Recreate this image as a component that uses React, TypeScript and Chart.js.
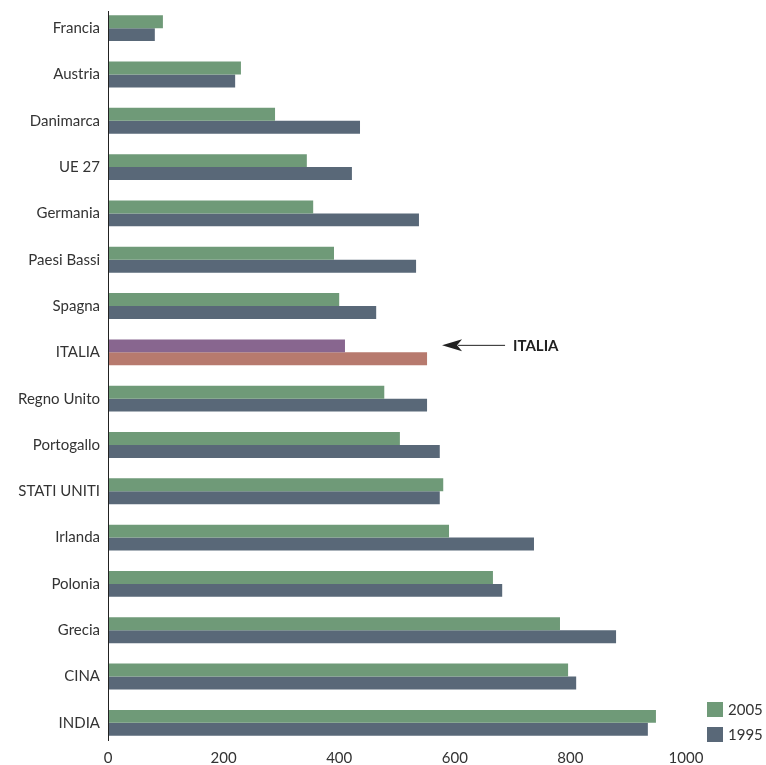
import React, { useEffect, useRef } from "react";
import { Chart, registerables } from "chart.js";

Chart.register(...registerables);

const categories = [
  "Francia", "Austria", "Danimarca", "UE 27", "Germania", "Paesi Bassi", "Spagna", "ITALIA",
  "Regno Unito", "Portogallo", "STATI UNITI", "Irlanda", "Polonia", "Grecia", "CINA", "INDIA",
];
const values2005 = [95, 230, 289, 344, 355, 391, 400, 410, 478, 505, 580, 590, 666, 782, 796, 948];
const values1995 = [81, 220, 436, 422, 538, 533, 464, 552, 552, 574, 574, 737, 682, 879, 810, 934];
const xTicks = [0, 200, 400, 600, 800, 1000];
const highlight = "ITALIA";

const GREEN = "#6f9a78";
const BLUE = "#596878";
const PURPLE = "#88668f";
const SALMON = "#b77a6e";
const FONT = "Lato, 'Open Sans', sans-serif";

export default function App() {
  const ref = useRef<HTMLCanvasElement>(null);
  useEffect(() => {
    if (!ref.current) return;
    const annot = {
      id: "annot",
      afterDraw(chart: any) {
        const ctx = chart.ctx;
        const x = chart.scales.x;
        const y = chart.scales.y;
        const area = chart.chartArea;
        ctx.save();
        // y axis line
        ctx.strokeStyle = "#222";
        ctx.lineWidth = 1;
        ctx.beginPath();
        ctx.moveTo(area.left + 0.5, area.top + 6);
        ctx.lineTo(area.left + 0.5, area.bottom - 5);
        ctx.stroke();
        const idx = categories.indexOf(highlight);
        const yc = y.getPixelForValue(idx) - 7;
        const tip = x.getPixelForValue(Math.max(values2005[idx], values1995[idx])) + 15;
        ctx.fillStyle = "#222";
        ctx.beginPath();
        ctx.moveTo(tip + 16, yc);
        ctx.lineTo(tip + 63, yc);
        ctx.stroke();
        ctx.beginPath();
        ctx.moveTo(tip, yc);
        ctx.lineTo(tip + 20, yc - 6);
        ctx.lineTo(tip + 15, yc);
        ctx.lineTo(tip + 20, yc + 6);
        ctx.closePath();
        ctx.fill();
        ctx.font = "bold 15px " + FONT;
        ctx.textBaseline = "middle";
        ctx.textAlign = "left";
        ctx.fillText(highlight, tip + 71, yc + 1);
        // legend
        const items = [
          { label: "2005", color: GREEN },
          { label: "1995", color: BLUE },
        ];
        ctx.font = "15px " + FONT;
        items.forEach((it, i) => {
          const ly = 702 + i * 25;
          ctx.fillStyle = it.color;
          ctx.fillRect(707, ly, 16, 15);
          ctx.fillStyle = "#333";
          ctx.fillText(it.label, 728, ly + 8);
        });
        ctx.restore();
      },
    };
    const chart = new Chart(ref.current, {
      type: "bar",
      data: {
        labels: categories,
        datasets: [
          {
            label: "2005",
            data: values2005,
            backgroundColor: categories.map((c) => (c === highlight ? PURPLE : GREEN)),
            categoryPercentage: 0.56,
            barPercentage: 1,
          },
          {
            label: "1995",
            data: values1995,
            backgroundColor: categories.map((c) => (c === highlight ? SALMON : BLUE)),
            categoryPercentage: 0.56,
            barPercentage: 1,
          },
        ],
      },
      options: {
        indexAxis: "y",
        animation: false,
        responsive: false,
        maintainAspectRatio: false,
        layout: { padding: { top: 5, right: 80, left: 0, bottom: 0 } },
        plugins: { legend: { display: false }, tooltip: { enabled: false } },
        scales: {
          x: {
            min: 0,
            max: 1000,
            afterBuildTicks: (s: any) => {
              s.ticks = xTicks.map((v) => ({ value: v }));
            },
            afterFit: (s: any) => {
              s.height = 19;
              s.paddingLeft = 0;
              s.paddingRight = 0;
            },
            grid: { display: false, drawTicks: false },
            border: { display: false },
            ticks: {
              padding: 3,
              color: "#333",
              font: { family: FONT, size: 15 },
              callback: (v: any) => String(v),
            },
          },
          y: {
            afterFit: (s: any) => {
              s.width = 108;
              s.paddingTop = 0;
              s.paddingBottom = 0;
            },
            grid: { display: false, drawTicks: false },
            border: { display: false },
            ticks: { padding: 8, color: "#333", font: { family: FONT, size: 15 } },
          },
        },
      },
      plugins: [annot],
    });
    return () => chart.destroy();
  }, []);
  return (
    <div style={{ position: "absolute", left: 0, top: 0, width: 766, height: 765, background: "#fff" }}>
      <canvas ref={ref} width={766} height={765} />
    </div>
  );
}
